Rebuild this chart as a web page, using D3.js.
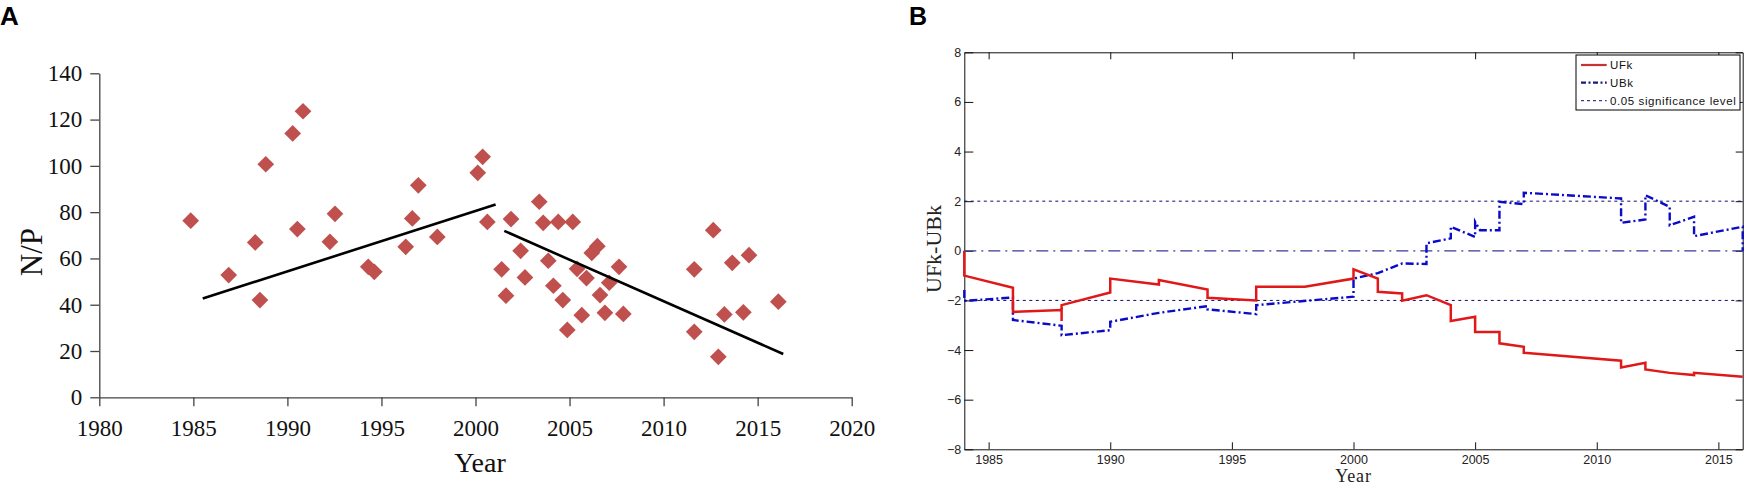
<!DOCTYPE html>
<html><head><meta charset="utf-8">
<script src="https://cdn.jsdelivr.net/npm/d3@7"></script>
<style>body{margin:0;background:#fff}svg{display:block}</style></head>
<body><svg id="c" width="1760" height="494"></svg>
<script>
// ---------- Panel A data ----------
const yearsA = [1984.86,1986.88,1988.29,1988.54,1988.85,1990.28,1990.83,1990.53,1992.26,1992.53,
  1994.30,1994.62,1996.29,1996.64,1996.96,1997.97,2000.12,2000.38,2000.63,2001.39,
  2001.62,2001.89,2002.40,2002.63,2003.39,2003.60,2003.87,2004.14,2004.40,2004.64,
  2004.88,2005.17,2005.40,2005.65,2005.90,2006.18,2006.48,2006.62,2006.88,2007.11,
  2007.63,2007.86,2011.63,2011.63,2012.64,2012.91,2013.23,2013.65,2014.24,2014.54,2016.10];
const npValues = [76.3,52.8,66.9,42.0,100.7,114.0,123.6,72.7,67.2,79.3,
  56.4,54.2,65.0,77.3,91.6,69.3,97.0,103.9,75.8,55.3,
  43.9,77.0,63.3,51.8,84.5,75.4,59.0,48.2,75.8,42.0,
  29.1,75.8,55.5,35.5,51.5,62.4,65.3,44.2,36.5,49.5,
  56.4,36.0,55.3,28.3,72.2,17.5,35.8,58.1,36.7,61.4,41.3];
const trendEarly = [[1985.5, 42.7],[2001.07, 83.3]];
const trendLate  = [[2001.53, 71.9],[2016.36, 18.7]];
const xTicksA = [1980,1985,1990,1995,2000,2005,2010,2015,2020];
const yTicksA = [0,20,40,60,80,100,120,140];

// ---------- Panel B data ----------
const ufk = [[1984,0],[1984,-1.0],[1986,-1.49],[1986,-2.46],[1988,-2.39],[1988,-2.83],[1988,-2.19],
  [1990,-1.68],[1990,-1.12],[1992,-1.36],[1992,-1.18],[1994,-1.56],[1994,-1.89],[1996,-2.0],
  [1996,-1.45],[1998,-1.45],[2000,-1.12],[2000,-0.75],[2001,-1.12],[2001,-1.65],[2002,-1.72],
  [2002,-2.01],[2003,-1.79],[2004,-2.19],[2004,-2.83],[2005,-2.66],[2005,-3.27],[2006,-3.27],
  [2006,-3.73],[2007,-3.87],[2007,-4.11],[2011,-4.43],[2011,-4.70],[2012,-4.51],[2012,-4.78],
  [2013,-4.92],[2014,-5.01],[2014,-4.92],[2016,-5.08]];
const ubk = [[1984,-1.58],[1984,-2.02],[1986,-1.88],[1986,-2.79],[1988,-3.02],[1988,-3.40],[1990,-3.20],
  [1990,-2.86],[1992,-2.50],[1994,-2.23],[1994,-2.36],[1996,-2.55],[1996,-2.19],[2000,-1.85],
  [2000,-1.12],[2001,-0.90],[2002,-0.51],[2003,-0.53],[2003,0.30],[2004,0.50],[2004,0.97],
  [2005,0.56],[2005,1.17],[2005.2,0.83],[2006,0.83],[2006,1.97],[2007,1.88],[2007,2.34],
  [2011,2.11],[2011,1.13],[2012,1.26],[2012,2.24],[2013,1.77],[2013,1.03],[2014,1.37],
  [2014,0.59],[2016,0.97],[2016,0]];
const sigLevels = [2,-2];
const zeroLevel = [0];
const xTicksB = [1985,1990,1995,2000,2005,2010,2015];
const yTicksB = [-8,-6,-4,-2,0,2,4,6,8];
const legendLabels = ['UFk','UBk','0.05 significance level'];

const svg = d3.select('#c');
svg.append('rect').attr('width',1760).attr('height',494).attr('fill','#fff');
const serif = 'Liberation Serif, "Times New Roman", serif';
const sans = 'Liberation Sans, Arial, sans-serif';

// ================= Panel A =================
const xA = d3.scaleLinear().domain([1980,2020]).range([99.3,851.7]);
const yA = d3.scaleLinear().domain([0,140]).range([397.3,73.3]);
const gA = svg.append('g');
const styleA = g => {
  g.selectAll('path,line').attr('stroke','#444').attr('stroke-width',1.3);
  g.selectAll('text').attr('font-family',serif).attr('font-size',23).attr('fill','#111');
};
gA.append('g').attr('transform',`translate(0,${yA(0)})`)
  .call(d3.axisBottom(xA).tickValues(xTicksA).tickFormat(d3.format('d')).tickSize(9).tickSizeOuter(0).tickPadding(13))
  .call(styleA);
gA.append('g').attr('transform',`translate(${xA(1980)},0)`)
  .call(d3.axisLeft(yA).tickValues(yTicksA).tickSize(9).tickSizeOuter(0).tickPadding(8))
  .call(styleA);
gA.selectAll('path.pt').data(d3.zip(yearsA,npValues)).join('path').attr('class','pt')
  .attr('d',d3.symbol(d3.symbolSquare,140)())
  .attr('transform',d=>`translate(${xA(d[0])},${yA(d[1])}) rotate(45)`)
  .attr('fill','#C0504D');
const lineA = d3.line().x(d=>xA(d[0])).y(d=>yA(d[1]));
[trendEarly,trendLate].forEach(t=>gA.append('path').attr('d',lineA(t)).attr('fill','none').attr('stroke','#000').attr('stroke-width',2.6));
gA.append('text').attr('x',480).attr('y',472).attr('text-anchor','middle')
  .attr('font-family',serif).attr('font-size',28).attr('fill','#111').text('Year');
gA.append('text').attr('transform','translate(42,252) rotate(-90)').attr('text-anchor','middle')
  .attr('font-family',serif).attr('font-size',31).attr('fill','#111').text('N/P');
svg.append('text').attr('x',0).attr('y',25).attr('font-family',sans).attr('font-weight','bold')
  .attr('font-size',26).attr('fill','#000').text('A');

// ================= Panel B =================
const xB = d3.scaleLinear().domain([1984,2016]).range([964.3,1742.7]);
const yB = d3.scaleLinear().domain([-8,8]).range([449.3,52.3]);
const gB = svg.append('g');
const styleB = g => {
  g.selectAll('path,line').attr('stroke','#111').attr('stroke-width',1);
  g.selectAll('text').attr('font-family',sans).attr('font-size',12.5).attr('fill','#222');
};
gB.append('g').attr('transform',`translate(0,${yB(-8)})`)
  .call(d3.axisBottom(xB).tickValues(xTicksB).tickFormat(d3.format('d')).tickSize(-7).tickSizeOuter(0).tickPadding(5.5))
  .call(styleB);
gB.append('g').attr('transform',`translate(0,${yB(8)})`)
  .call(d3.axisTop(xB).tickValues(xTicksB).tickFormat('').tickSize(-7).tickSizeOuter(0))
  .call(styleB);
gB.append('g').attr('transform',`translate(${xB(1984)},0)`)
  .call(d3.axisLeft(yB).tickValues(yTicksB).tickSize(-9).tickSizeOuter(0).tickPadding(3))
  .call(styleB);
gB.append('g').attr('transform',`translate(${xB(2016)},0)`)
  .call(d3.axisRight(yB).tickValues(yTicksB).tickFormat('').tickSize(-7).tickSizeOuter(0))
  .call(styleB);

// reference lines
gB.selectAll('line.sig').data(sigLevels).join('line').attr('class','sig')
  .attr('x1',xB(1984)).attr('x2',xB(2016)).attr('y1',d=>yB(d)).attr('y2',d=>yB(d))
  .attr('stroke','#0c0c70').attr('stroke-width',1).attr('stroke-dasharray','3,3.5');
gB.selectAll('line.zero').data(zeroLevel).join('line').attr('class','zero')
  .attr('x1',xB(1984)).attr('x2',xB(2016)).attr('y1',d=>yB(d)).attr('y2',d=>yB(d))
  .attr('stroke','#3a3a98').attr('stroke-width',1.2).attr('stroke-dasharray','12,5,2,5');

const lineB = d3.line().x(d=>xB(d[0])).y(d=>yB(d[1]));
gB.append('path').attr('d',lineB(ubk)).attr('fill','none').attr('stroke','#0a0ac8')
  .attr('stroke-width',2.4).attr('stroke-dasharray','8,3,2,3');
gB.append('path').attr('d',lineB(ufk)).attr('fill','none').attr('stroke','#e01818')
  .attr('stroke-width',2.5);

// legend
const lg = gB.append('g');
lg.append('rect').attr('x',1576).attr('y',55).attr('width',164).attr('height',55)
  .attr('fill','#fff').attr('stroke','#000').attr('stroke-width',1);
const legY = [65,82.7,100.7];
const legStyles = [
  {stroke:'#c83232',w:2.2,dash:null},
  {stroke:'#1a1a78',w:2.2,dash:'5,2.5,2,2.5'},
  {stroke:'#0c0c70',w:1,dash:'3,3'}];
legendLabels.forEach((lab,i)=>{
  lg.append('line').attr('x1',1581).attr('x2',1606.7).attr('y1',legY[i]).attr('y2',legY[i])
    .attr('stroke',legStyles[i].stroke).attr('stroke-width',legStyles[i].w)
    .attr('stroke-dasharray',legStyles[i].dash);
  lg.append('text').attr('x',1610).attr('y',legY[i]).attr('dy','0.35em')
    .attr('font-family',sans).attr('font-size',11.5).attr('letter-spacing',0.6).attr('fill','#111').text(lab);
});

gB.append('text').attr('x',1353.5).attr('y',482).attr('text-anchor','middle')
  .attr('font-family',serif).attr('font-size',18).attr('letter-spacing',0.8).attr('fill','#222').text('Year');
gB.append('text').attr('transform','translate(941,249) rotate(-90)').attr('text-anchor','middle')
  .attr('font-family',serif).attr('font-size',22).attr('fill','#222').text('UFk-UBk');
svg.append('text').attr('x',909).attr('y',24.5).attr('font-family',sans).attr('font-weight','bold')
  .attr('font-size',25).attr('fill','#000').text('B');
</script></body></html>
